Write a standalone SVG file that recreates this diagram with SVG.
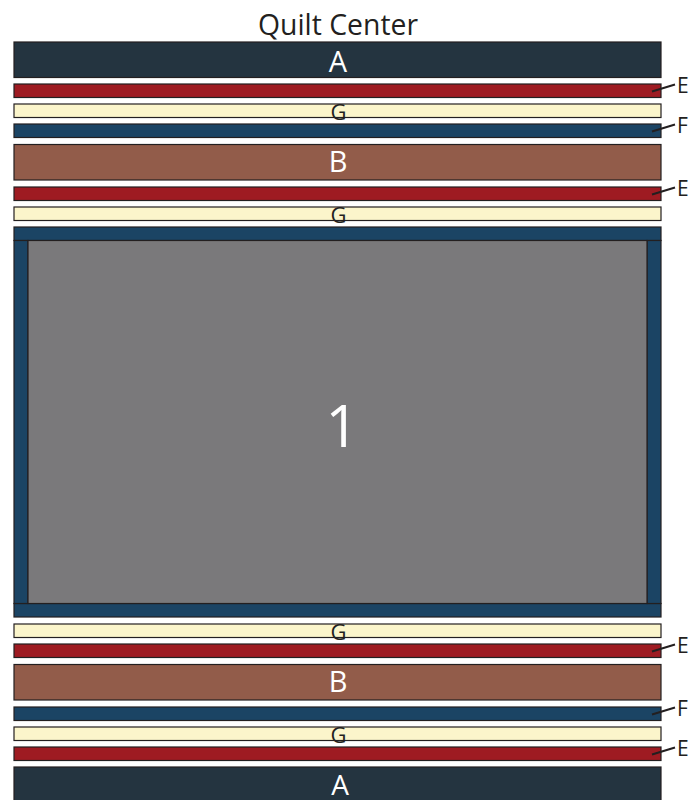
<svg xmlns="http://www.w3.org/2000/svg" width="700" height="800" viewBox="0 0 700 800">
<style>
.p{stroke:#231f20;stroke-width:1.2}
.A{fill:#243440}.E{fill:#9e1b22}.G{fill:#fbf5cb}.F{fill:#1b4464}.B{fill:#925c4a}.C{fill:#7a797b}
text{font-family:"Open Sans","Noto Sans",sans-serif}
.w{fill:#ffffff;text-anchor:middle}
.d{fill:#231f20;text-anchor:middle}
.g{fill:#231f20;text-anchor:middle;font-size:22px}
.s{fill:#231f20;font-size:21px}
.l{stroke:#231f20;stroke-width:2;fill:none}
</style>
<rect width="700" height="800" fill="#ffffff"/>
<text x="338" y="35" class="d" font-size="29" textLength="160" lengthAdjust="spacingAndGlyphs">Quilt Center</text>
<g id="A1"><rect class="p A" x="14" y="42" width="647" height="35.5"/><text x="338" y="72" class="w" font-size="29">A</text></g>
<g id="E1"><rect class="p E" x="14" y="84" width="647" height="13.5"/></g>
<g id="G1"><rect class="p G" x="14" y="104" width="647" height="13.5"/><text x="338.5" y="120" class="g">G</text></g>
<g id="F1"><rect class="p F" x="14" y="124" width="647" height="13.5"/></g>
<g id="B1"><rect class="p B" x="14" y="144.5" width="647" height="35.5"/><text x="338" y="172" class="w" font-size="29">B</text></g>
<g id="E2"><rect class="p E" x="14" y="187" width="647" height="13.5"/></g>
<g id="G2"><rect class="p G" x="14" y="207" width="647" height="13.5"/><text x="338.5" y="223" class="g">G</text></g>
<g id="center">
<rect class="p F" x="14" y="227" width="647" height="13.5"/>
<rect class="p F" x="14" y="603.5" width="647" height="13.5"/>
<rect class="p F" x="14" y="240.5" width="14" height="363"/>
<rect class="p F" x="647" y="240.5" width="14" height="363"/>
<rect class="p C" x="28" y="240.5" width="619" height="363"/>
<text x="342" y="447" class="w" font-size="58">1</text>
</g>
<g id="G3"><rect class="p G" x="14" y="624" width="647" height="13.5"/><text x="338.5" y="640" class="g">G</text></g>
<g id="E3"><rect class="p E" x="14" y="644" width="647" height="13.5"/></g>
<g id="B2"><rect class="p B" x="14" y="664.5" width="647" height="35.5"/><text x="338" y="692" class="w" font-size="29">B</text></g>
<g id="F2"><rect class="p F" x="14" y="707" width="647" height="13.5"/></g>
<g id="G4"><rect class="p G" x="14" y="727" width="647" height="13.5"/><text x="338.5" y="743" class="g">G</text></g>
<g id="E4"><rect class="p E" x="14" y="747" width="647" height="13.5"/></g>
<g id="A2"><rect class="p A" x="14" y="767" width="647" height="40"/><text x="340" y="795" class="w" font-size="28">A</text></g>
<g id="connectors">
<line class="l" x1="652" y1="91.5" x2="675" y2="84.5"/>
<line class="l" x1="652" y1="131.5" x2="675" y2="124.5"/>
<line class="l" x1="652" y1="194.5" x2="675" y2="187.5"/>
<line class="l" x1="652" y1="651.5" x2="675" y2="644.5"/>
<line class="l" x1="652" y1="714.5" x2="675" y2="707.5"/>
<line class="l" x1="652" y1="754.5" x2="675" y2="747.5"/>
</g>
<g id="labels">
<text x="677" y="92.5" class="s">E</text>
<text x="677" y="132.5" class="s">F</text>
<text x="677" y="195.5" class="s">E</text>
<text x="677" y="652.5" class="s">E</text>
<text x="677" y="715.5" class="s">F</text>
<text x="677" y="755.5" class="s">E</text>
</g>
</svg>
